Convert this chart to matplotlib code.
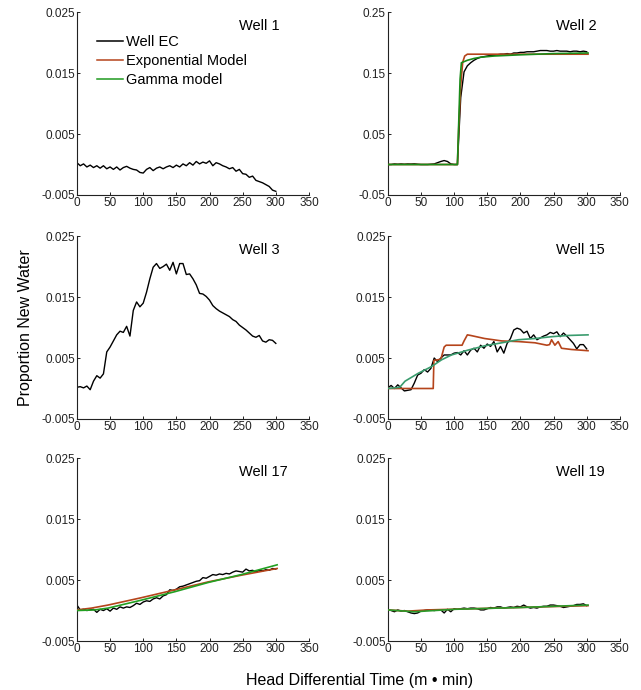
import matplotlib
matplotlib.use("Agg")
import matplotlib.pyplot as plt
from matplotlib.lines import Line2D

plt.rcParams['font.family'] = ['Liberation Sans', 'DejaVu Sans']

# time axis for the measured (Well EC) series, head differential time m*min
t_ec = list(range(0, 305, 5))

well1_ec = [0.0003, -0.0002, 0.0001, -0.0004, -0.0001, -0.0005, -0.0002, -0.0006, -0.0002, -0.0007,
            -0.0004, -0.0008, -0.0004, -0.0009, -0.0005, -0.0003, -0.0006, -0.0008, -0.0009, -0.0013,
            -0.0014, -0.0008, -0.0005, -0.0010, -0.0006, -0.0004, -0.0007, -0.0004, -0.0002, -0.0005,
            -0.0001, -0.0004, 0.0001, -0.0002, 0.0003, -0.0001, 0.0005, 0.0001, 0.0004, 0.0002,
            0.0006, -0.0002, 0.0003, 0.0001, -0.0002, -0.0004, -0.0007, -0.0005, -0.0011, -0.0008,
            -0.0015, -0.0016, -0.0021, -0.0019, -0.0026, -0.0028, -0.0030, -0.0033, -0.0036, -0.0042,
            -0.0044]

well2_ec = [0.0, 0.0, 0.001, 0.0005, 0.001, 0.0005, 0.001, 0.0008, 0.0012, 0.0005,
            0.0, 0.0, 0.0, 0.0005, 0.001, 0.003, 0.005, 0.0065, 0.005, 0.001,
            0.0, 0.0, 0.11, 0.152, 0.162, 0.167, 0.171, 0.174, 0.176, 0.177,
            0.178, 0.179, 0.179, 0.180, 0.181, 0.181, 0.182, 0.181, 0.183, 0.183,
            0.184, 0.184, 0.185, 0.185, 0.185, 0.186, 0.187, 0.187, 0.187, 0.186,
            0.186, 0.187, 0.186, 0.186, 0.186, 0.185, 0.186, 0.186, 0.185, 0.186,
            0.185]
well2_exp_t = [0, 105, 107, 110, 113, 116, 120, 130, 302]
well2_exp = [0.0, 0.0, 0.06, 0.13, 0.168, 0.178, 0.181, 0.181, 0.181]
well2_gam_t = [0, 105, 109, 111, 120, 130, 140, 160, 200, 250, 302]
well2_gam = [0.0, 0.0, 0.14, 0.167, 0.171, 0.174, 0.176, 0.178, 0.180, 0.182, 0.183]

well3_ec = [0.0002, 0.0003, 0.0001, 0.0004, -0.0002, 0.0012, 0.0021, 0.0017, 0.0024, 0.0060,
            0.0068, 0.0078, 0.0088, 0.0094, 0.0092, 0.0102, 0.0086, 0.0128, 0.0142, 0.0134,
            0.0140, 0.0158, 0.0180, 0.0199, 0.0205, 0.0197, 0.0200, 0.0204, 0.0194, 0.0207,
            0.0188, 0.0205, 0.0205, 0.0187, 0.0188, 0.0180, 0.0170, 0.0156, 0.0155, 0.0151,
            0.0145, 0.0136, 0.0131, 0.0127, 0.0124, 0.0121, 0.0118, 0.0113, 0.0110, 0.0104,
            0.0100, 0.0096, 0.0091, 0.0086, 0.0084, 0.0087, 0.0078, 0.0076, 0.0080, 0.0079,
            0.0074]

well15_ec = [0.0001, 0.0005, 0.0000, 0.0006, 0.0001, -0.0004, -0.0003, -0.0002, 0.0009, 0.0022,
             0.0025, 0.0031, 0.0027, 0.0033, 0.0050, 0.0044, 0.0050, 0.0055, 0.0055, 0.0055,
             0.0058, 0.0059, 0.0055, 0.0062, 0.0055, 0.0063, 0.0066, 0.0060, 0.0071, 0.0066,
             0.0073, 0.0069, 0.0077, 0.0060, 0.0069, 0.0058, 0.0074, 0.0082, 0.0096, 0.0099,
             0.0097, 0.0091, 0.0094, 0.0082, 0.0088, 0.0080, 0.0083, 0.0086, 0.0088, 0.0092,
             0.0090, 0.0093, 0.0085, 0.0091, 0.0086, 0.0080, 0.0074, 0.0065, 0.0072, 0.0072,
             0.0065]
well15_exp_t = [0, 68.5, 69.5, 80, 85, 88, 112, 115, 120, 125, 146, 172, 197, 222, 240, 244,
                247, 252, 257, 262, 277, 302]
well15_exp = [0.0, 0.0, 0.0046, 0.0048, 0.0068, 0.0071, 0.0071, 0.0078, 0.0088, 0.0087, 0.0082,
              0.0078, 0.0077, 0.0075, 0.0071, 0.0072, 0.0080, 0.0071, 0.0077, 0.0066, 0.0064, 0.0062]
well15_gam_t = [0, 18, 26, 46, 66, 81, 96, 121, 146, 172, 197, 222, 247, 272, 302]
well15_gam = [0.0, 0.0002, 0.0012, 0.0025, 0.0036, 0.0047, 0.0055, 0.0063, 0.0070, 0.0075,
              0.0080, 0.0082, 0.0085, 0.0087, 0.0088]

well17_ec = [0.0009, 0.0001, 0.0002, 0.0000, 0.0001, 0.0002, -0.0003, 0.0002, 0.0000, 0.0003,
             -0.0001, 0.0004, 0.0002, 0.0006, 0.0004, 0.0006, 0.0005, 0.0008, 0.0012, 0.0010,
             0.0014, 0.0016, 0.0015, 0.0019, 0.0021, 0.0019, 0.0024, 0.0026, 0.0034, 0.0033,
             0.0035, 0.0039, 0.0040, 0.0042, 0.0044, 0.0046, 0.0048, 0.0049, 0.0054, 0.0053,
             0.0056, 0.0059, 0.0058, 0.0060, 0.0059, 0.0061, 0.0060, 0.0063, 0.0065, 0.0064,
             0.0063, 0.0068, 0.0065, 0.0066, 0.0063, 0.0066, 0.0065, 0.0067, 0.0066, 0.0069,
             0.0068]
well17_exp_t = [0, 22, 47, 97, 148, 198, 248, 302]
well17_exp = [0.0001, 0.0004, 0.0009, 0.0021, 0.0034, 0.0047, 0.0058, 0.0069]
well17_gam_t = [0, 27, 47, 97, 148, 198, 248, 302]
well17_gam = [0.0, 0.0001, 0.0004, 0.0017, 0.0031, 0.0046, 0.0059, 0.0075]

well19_ec = [0.0002, 0.0000, -0.0002, 0.0001, -0.0001, 0.0000, -0.0002, -0.0004, -0.0005, -0.0004,
             -0.0001, 0.0000, 0.0001, 0.0001, 0.0000, 0.0001, 0.0001, -0.0004, 0.0002, -0.0002,
             0.0003, 0.0002, 0.0003, 0.0004, 0.0003, 0.0004, 0.0004, 0.0003, 0.0001, 0.0001,
             0.0003, 0.0005, 0.0004, 0.0006, 0.0006, 0.0004, 0.0005, 0.0006, 0.0005, 0.0007,
             0.0006, 0.0009, 0.0006, 0.0004, 0.0005, 0.0004, 0.0006, 0.0007, 0.0007, 0.0009,
             0.0009, 0.0008, 0.0007, 0.0005, 0.0006, 0.0007, 0.0008, 0.0010, 0.0010, 0.0011,
             0.0008]
well19_exp_t = [0, 30, 60, 302]
well19_exp = [0.0001, -0.0001, 0.0001, 0.0008]
well19_gam_t = [0, 40, 100, 200, 302]
well19_gam = [0.0001, -0.0002, 0.0002, 0.0005, 0.0009]

small_ticks = [-0.005, 0.005, 0.015, 0.025]
big_ticks = [-0.05, 0.05, 0.15, 0.25]
x_ticks = [0, 50, 100, 150, 200, 250, 300, 350]

ec_color = 'black'
exp_color = '#b5441b'
gam_color = '#1f9a1f'

fig = plt.figure(figsize=(6.41, 6.90), dpi=100)

col_x = [0.120, 0.605]
row_y = [0.7174, 0.3928, 0.0710]
w, h = 0.362, 0.265

panels = [
    ('Well 1', 0, 0, well1_ec, None, None, small_ticks, gam_color),
    ('Well 2', 0, 1, well2_ec, (well2_exp_t, well2_exp), (well2_gam_t, well2_gam), big_ticks, '#1a8c1a'),
    ('Well 3', 1, 0, well3_ec, None, None, small_ticks, gam_color),
    ('Well 15', 1, 1, well15_ec, (well15_exp_t, well15_exp), (well15_gam_t, well15_gam), small_ticks, '#3a9c6e'),
    ('Well 17', 2, 0, well17_ec, (well17_exp_t, well17_exp), (well17_gam_t, well17_gam), small_ticks, '#22a022'),
    ('Well 19', 2, 1, well19_ec, (well19_exp_t, well19_exp), (well19_gam_t, well19_gam), small_ticks, '#2a9a2a'),
]

for title, r, c, ec, expo, gam, yt, gcol in panels:
    ax = fig.add_axes([col_x[c], row_y[r], w, h])
    ax.plot(t_ec, ec, color=ec_color, lw=1.0, zorder=2)
    if expo is not None:
        ax.plot(expo[0], expo[1], color=exp_color, lw=1.2, zorder=3)
    if gam is not None:
        ax.plot(gam[0], gam[1], color=gcol, lw=1.2, zorder=4)
    ax.set_xlim(0, 350)
    ax.set_ylim(yt[0], yt[-1])
    ax.set_xticks(x_ticks)
    ax.set_yticks(yt)
    ax.set_yticklabels([f'{v:g}' if abs(v) >= 0.05 else f'{v:.3f}' for v in yt])
    ax.tick_params(direction='in', length=2.5, width=0.7, labelsize=8.5, pad=1.5, colors='#222222')
    for s in ['top', 'right']:
        ax.spines[s].set_visible(False)
    for s in ['left', 'bottom']:
        ax.spines[s].set_linewidth(0.8)
        ax.spines[s].set_color('#222222')
    tx = 0.70 if c == 0 else 0.727
    ax.text(tx, 0.925, title, transform=ax.transAxes, ha='left', va='center', fontsize=10.5)

    if title == 'Well 1':
        handles = [Line2D([], [], color=ec_color, lw=1.1),
                   Line2D([], [], color=exp_color, lw=1.1),
                   Line2D([], [], color=gam_color, lw=1.1)]
        ax.legend(handles, ['Well EC', 'Exponential Model', 'Gamma model'],
                  loc='upper left', bbox_to_anchor=(0.086, 0.875), frameon=False,
                  fontsize=10.5, handlelength=1.8, handletextpad=0.2,
                  labelspacing=0.33, borderpad=0, borderaxespad=0)

fig.text(0.04, 0.525, 'Proportion New Water', rotation=90, ha='center', va='center', fontsize=11.5)
fig.text(0.561, 0.014, 'Head Differential Time (m \u2022 min)', ha='center', va='center', fontsize=11.5)

fig.savefig('out.png', dpi=100)
